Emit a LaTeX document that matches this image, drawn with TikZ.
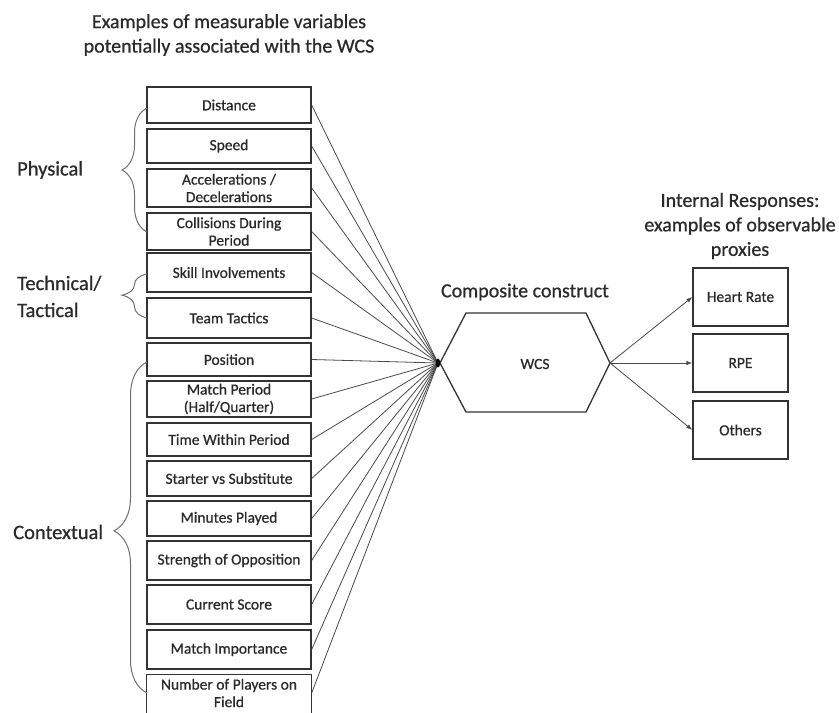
\documentclass[tikz,border=0pt]{standalone}
\usepackage{fontspec}
\setmainfont{Carlito}[FakeBold=0.7]
\usetikzlibrary{arrows.meta,decorations.pathreplacing}
\definecolor{txtc}{HTML}{2A2A2A}
\definecolor{boxc}{HTML}{333333}
\definecolor{linec}{HTML}{4A4A4A}
\definecolor{bracec}{HTML}{707070}
\begin{document}
\begin{tikzpicture}[x=1pt,y=-1pt,
  vbox/.style={draw=boxc, line width=1.3pt, minimum width=164pt, inner sep=0pt, align=center,
    font=\fontsize{15.5}{17.5}\selectfont, text=txtc},
  rbox/.style={draw=boxc, line width=1.3pt, minimum width=95pt, minimum height=58pt, inner sep=0pt,
    font=\fontsize{15.5}{18}\selectfont, text=txtc},
  heading/.style={align=center, font=\fontsize{20}{24.5}\selectfont, text=txtc, inner sep=0pt},
  side/.style={align=left, anchor=west, font=\fontsize{20.5}{27}\selectfont, text=txtc, inner sep=0pt},
  feed/.style={draw=linec, line width=0.8pt},
  outarrow/.style={draw=linec, line width=0.8pt, -{Latex[length=6pt,width=4.5pt]}},
  curly/.style={draw=bracec, line width=1pt, decorate},
]
\useasboundingbox (0,0) rectangle (839,713);

% headings
\node[heading] (title) at (229,35) {Examples of measurable variables\\potentially associated with the WCS};
\node[heading] (irt) at (740,226) {Internal Responses:\\examples of observable\\proxies};
\node[heading] (cct) at (525,292) {Composite construct};

% left boxes
\node[vbox, minimum height=36pt] (b1) at (229,105) {Distance};
\node[vbox, minimum height=34pt] (b2) at (229,146) {Speed};
\node[vbox, minimum height=38pt] (b3) at (229,188) {Accelerations /\\Decelerations};
\node[vbox, minimum height=37pt] (b4) at (229,231.5) {Collisions During\\Period};
\node[vbox, minimum height=39pt] (b5) at (229,272.5) {Skill Involvements};
\node[vbox, minimum height=40pt] (b6) at (229,318) {Team Tactics};
\node[vbox, minimum height=33pt] (b7) at (229,359.5) {Position};
\node[vbox, minimum height=36pt] (b8) at (229,399) {Match Period\\(Half/Quarter)};
\node[vbox, minimum height=33pt] (b9) at (229,439.5) {Time Within Period};
\node[vbox, minimum height=35pt] (b10) at (229,478.5) {Starter vs Substitute};
\node[vbox, minimum height=35pt] (b11) at (229,518.5) {Minutes Played};
\node[vbox, minimum height=39pt] (b12) at (229,560.5) {Strength of Opposition};
\node[vbox, minimum height=39pt] (b13) at (229,604.5) {Current Score};
\node[vbox, minimum height=39pt] (b14) at (229,649.5) {Match Importance};
\node[vbox, draw=none, minimum height=36pt] (b15) at (229,693) {Number of Players on\\Field};
\coordinate (pagebottom) at (0,713);
\draw[boxc, line width=1.3pt] (b15.west |- pagebottom) -- (b15.north west) -- (b15.north east) -- (b15.east |- pagebottom);

% side labels and braces
\node[side] (phys) at (17,170) {Physical};
\node[side] (tech) at (17,296.5) {Technical/\\Tactical};
\node[side] (ctx) at (13,532) {Contextual};
\coordinate (p1) at (147,232);
\coordinate (p2) at (147,108);
\coordinate (t1) at (147,318);
\coordinate (t2) at (147,274);
\coordinate (c1) at (147,693);
\coordinate (c2) at (147,362);
\draw[curly, decoration={brace, amplitude=25pt, aspect=0.5}] (p1) -- (p2);
\draw[curly, decoration={brace, amplitude=25pt, aspect=0.52}] (t1) -- (t2);
\draw[curly, decoration={brace, amplitude=33pt, aspect=0.49}] (c1) -- (c2);

% hub and hexagon
\coordinate (hub) at (438,363);
\coordinate (hL) at (440,363);
\coordinate (hTL) at (466,313);
\coordinate (hTR) at (586,313);
\coordinate (hR) at (610,363);
\coordinate (hBR) at (586,412);
\coordinate (hBL) at (466,412);
\draw[boxc, line width=1.3pt] (hL) -- (hTL) -- (hTR) -- (hR) -- (hBR) -- (hBL) -- cycle;
\node[font=\fontsize{15.5}{18}\selectfont, text=txtc, inner sep=0pt] (wcs) at (535,364) {WCS};

\foreach \i in {1,...,14} { \draw[feed] (b\i.east) -- (hub); }
\draw[feed] (b15.east) -- (hub);
\fill[black] (hub) ellipse (2.2pt and 4.5pt);

% right boxes
\node[rbox] (r1) at (740.5,297) {Heart Rate};
\node[rbox] (r2) at (740.5,363) {RPE};
\node[rbox] (r3) at (740.5,430) {Others};
\draw[outarrow] (hR) -- (r1.west);
\draw[outarrow] (hR) -- (r2.west);
\draw[outarrow] (hR) -- (r3.west);
\end{tikzpicture}
\end{document}
